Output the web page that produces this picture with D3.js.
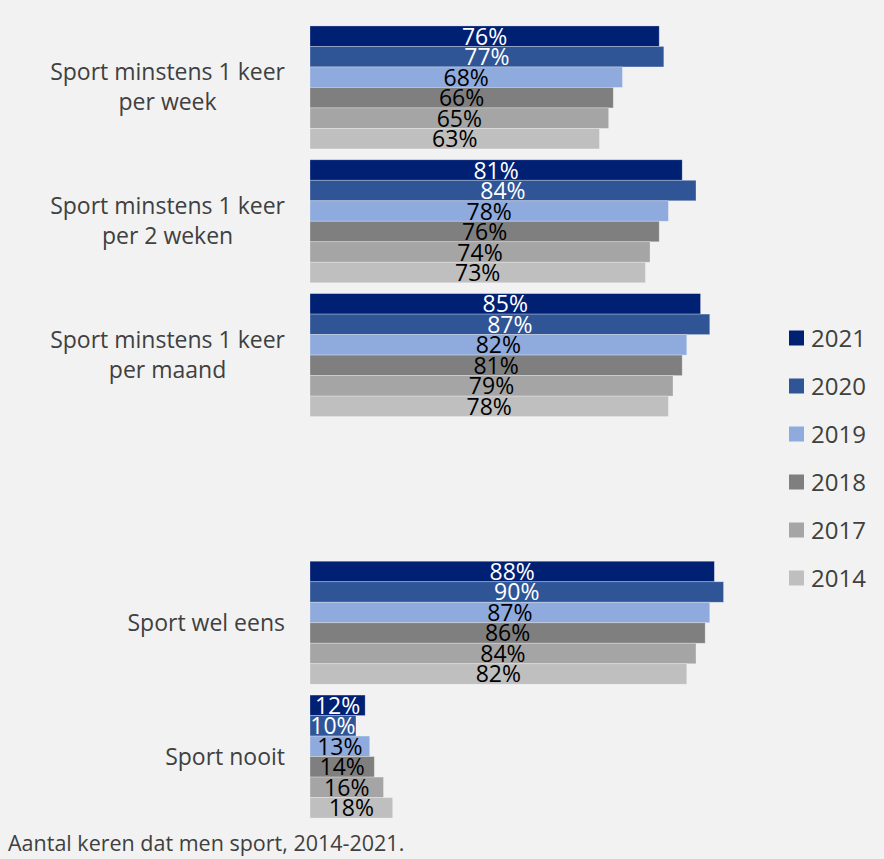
<!DOCTYPE html>
<html>
<head>
<meta charset="utf-8">
<script src="https://cdn.jsdelivr.net/npm/d3@7"></script>
<style>
  body { margin: 0; background: #f2f2f2; }
  svg { display: block; font-family: "Open Sans", sans-serif; }
</style>
</head>
<body>
<div id="chart"></div>
<script>
// categories (the empty one is the gap in the original chart)
var categories = ["Sport minstens 1 keer|per week", "Sport minstens 1 keer|per 2 weken",
  "Sport minstens 1 keer|per maand", "", "Sport wel eens", "Sport nooit"];
var years = ["2021", "2020", "2019", "2018", "2017", "2014"];

var v2021 = [76, 81, 85, null, 88, 12];
var v2020 = [77, 84, 87, null, 90, 10];
var v2019 = [68, 78, 82, null, 87, 13];
var v2018 = [66, 76, 81, null, 86, 14];
var v2017 = [65, 74, 79, null, 84, 16];
var v2014 = [63, 73, 78, null, 82, 18];
var series = [v2021, v2020, v2019, v2018, v2017, v2014];

var colors = ["#002074", "#2f5597", "#8faadc", "#7f7f7f", "#a5a5a5", "#bfbfbf"];
var labelColors = ["#ffffff", "#ffffff", "#000000", "#000000", "#000000", "#000000"];

var width = 884, height = 859;

var svg = d3.select("#chart").append("svg")
  .attr("width", width)
  .attr("height", height);

svg.append("rect")
  .attr("width", width)
  .attr("height", height)
  .attr("fill", "#f2f2f2");

var y0 = d3.scaleBand()
  .domain(categories)
  .range([20.6, 823.4])
  .paddingInner(0.081)
  .paddingOuter(0.04);

var y1 = d3.scaleBand()
  .domain(years)
  .range([0, y0.bandwidth()]);

var x = d3.scaleLinear()
  .domain([0, 100])
  .range([310, 769.5]);

// bars
var groups = svg.selectAll("g.cat")
  .data(categories)
  .enter().append("g")
  .attr("class", "cat")
  .attr("transform", function(d) { return "translate(0," + y0(d) + ")"; });

groups.each(function(cat, ci) {
  if (cat === "") return;
  var g = d3.select(this);
  var rows = years.map(function(yr, yi) { return {year: yr, yi: yi, value: series[yi][ci]}; });

  g.selectAll("rect")
    .data(rows)
    .enter().append("rect")
    .attr("x", x(0))
    .attr("y", function(d) { return y1(d.year); })
    .attr("width", function(d) { return x(d.value) - x(0); })
    .attr("height", y1.bandwidth())
    .attr("fill", function(d) { return colors[d.yi]; })
    .attr("stroke", "#ffffff")
    .attr("stroke-opacity", 0.35)
    .attr("stroke-width", 0.8);

  g.selectAll("text.val")
    .data(rows)
    .enter().append("text")
    .attr("class", "val")
    .attr("x", function(d) { return (x(0) + x(d.value)) / 2; })
    .attr("y", function(d) { return y1(d.year) + y1.bandwidth() / 2 + 8.5; })
    .attr("text-anchor", "middle")
    .style("font-size", "23px")
    .attr("fill", function(d) { return labelColors[d.yi]; })
    .text(function(d) { return d.value + "%"; });

  // category label: lines centred, block right-aligned
  var lines = cat.split("|");
  var lab = g.append("text")
    .attr("fill", "#404040")
    .style("font-size", "23px")
    .attr("text-anchor", "middle");
  var lineH = 30;
  var mid = y0.bandwidth() / 2;
  lines.forEach(function(l, i) {
    lab.append("tspan")
      .attr("y", mid + (i - (lines.length - 1) / 2) * lineH + 8)
      .text(l);
  });
  var maxW = 0;
  lab.selectAll("tspan").each(function() { maxW = Math.max(maxW, this.getComputedTextLength()); });
  lab.selectAll("tspan").attr("x", 285 - maxW / 2);
});

// legend
var legend = svg.append("g")
  .attr("transform", "translate(789,338)");

years.forEach(function(yr, i) {
  var row = legend.append("g").attr("transform", "translate(0," + (i * 48) + ")");
  row.append("rect")
    .attr("x", 0)
    .attr("y", -7.5)
    .attr("width", 15)
    .attr("height", 15)
    .attr("fill", colors[i]);
  row.append("text")
    .attr("x", 22)
    .attr("y", 8.5)
    .attr("fill", "#404040")
    .style("font-size", "24px")
    .text(yr);
});

// caption
svg.append("text")
  .attr("x", 8)
  .attr("y", 851)
  .attr("fill", "#404040")
  .style("font-size", "21.5px")
  .text("Aantal keren dat men sport, 2014-2021.");
</script>
</body>
</html>
